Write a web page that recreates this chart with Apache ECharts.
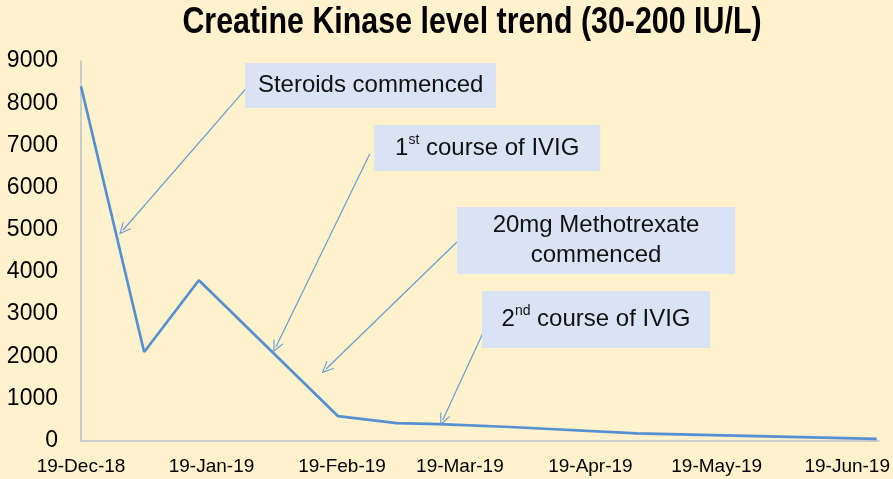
<!DOCTYPE html>
<html>
<head>
<meta charset="utf-8">
<script src="https://cdn.jsdelivr.net/npm/echarts@6/dist/echarts.min.js"></script>
<style>
html,body{margin:0;padding:0;background:#fff2cc;}
#chart{width:893px;height:479px;}
</style>
</head>
<body>
<div id="chart"></div>
<script>
// ---- data ----
var dates = ['2018-12-19','2019-01-03','2019-01-16','2019-02-18','2019-03-04','2019-03-14','2019-03-31','2019-04-30','2019-05-31','2019-06-26'];
var ckValues = [8400, 2100, 3800, 580, 410, 390, 320, 170, 100, 40];
var tickDates = ['2018-12-19','2019-01-19','2019-02-19','2019-03-19','2019-04-19','2019-05-19','2019-06-19'];
var tickLabels = ['19-Dec-18','19-Jan-19','19-Feb-19','19-Mar-19','19-Apr-19','19-May-19','19-Jun-19'];
var yTicks = [0, 9000, 1000];
var titleText = 'Creatine Kinase level trend (30-200 IU/L)';
// annotation boxes: text, centre [date, value]
var boxTexts = ['Steroids commenced', '{n|1}{sup|st}{n| course of IVIG}', '20mg Methotrexate\ncommenced', '{n|2}{sup|nd}{n| course of IVIG}'];
var boxCentres = [['2019-02-25 19:00', 8418], ['2019-03-25 12:00', 6936], ['2019-04-20 08:00', 4743], ['2019-04-20 08:00', 2869]];
// arrows: [from [date,value], to [date,value]]
var arrows = [
  [['2019-01-27 17:00', 8406], ['2018-12-29 00:00', 4992]],
  [['2019-02-25 14:00', 6794], ['2019-02-03 07:00', 2217]],
  [['2019-03-18 07:00', 4707], ['2019-02-15 05:00', 1696]],
  [['2019-03-25 17:00', 2817], ['2019-03-14 22:00', 486]]
];

function ts(s){ return new Date(s.length > 10 ? s.replace(' ', 'T') : s + 'T00:00:00').getTime(); }

var boxSizes = [[251,45],[226,46],[278,67],[228,57]];

var chart = echarts.init(document.getElementById('chart'));
var font = 'Liberation Sans, Arial, sans-serif';
var chevron = 'path://M5,0 L10,10 L8.9,10 L5,2.2 L1.1,10 L0,10 Z';
var tickTs = tickDates.map(ts);

chart.setOption({
  backgroundColor: '#fff2cc',
  animation: false,
  graphic: [{
    type: 'text',
    x: 472, y: 5,
    scaleX: 0.844,
    style: {
      text: titleText,
      font: 'bold 36px "Liberation Sans", Arial, sans-serif',
      fill: '#000',
      textAlign: 'center',
      textVerticalAlign: 'top'
    }
  }],
  grid: {left: 81, right: 13, top: 61, bottom: 38.5, containLabel: false},
  xAxis: {
    type: 'value',
    min: ts('2018-12-19'),
    max: ts('2019-06-26 12:00'),
    splitLine: {show: false},
    axisTick: {show: false},
    axisLine: {show: true, lineStyle: {color: '#bcc1cc', width: 1.5}},
    axisLabel: {
      show: true,
      customValues: tickTs,
      fontFamily: font, fontSize: 19, color: '#000', margin: 17,
      hideOverlap: false,
      showMinLabel: true, showMaxLabel: true,
      formatter: function(v){ var i = tickTs.indexOf(v); return i >= 0 ? tickLabels[i] : ''; }
    }
  },
  yAxis: {
    type: 'value',
    min: yTicks[0], max: yTicks[1], interval: yTicks[2],
    splitLine: {show: false},
    axisTick: {show: false},
    axisLine: {show: true, lineStyle: {color: '#bcc1cc', width: 1.5}},
    axisLabel: {fontFamily: font, fontSize: 23, color: '#000', margin: 23, formatter: function(v){ return String(v); }}
  },
  series: [{
    type: 'line',
    data: dates.map(function(d, i){ return [ts(d), ckValues[i]]; }),
    showSymbol: false,
    lineStyle: {color: '#5590d2', width: 2.7},
    z: 3,
    markLine: {
      silent: true,
      symbol: ['none', chevron],
      symbolSize: [11, 12],
      lineStyle: {color: '#6a9cd3', width: 1.2, type: 'solid'},
      label: {show: false},
      data: arrows.map(function(a){
        return [{coord: [ts(a[0][0]), a[0][1]]}, {coord: [ts(a[1][0]), a[1][1]]}];
      })
    },
    markPoint: {
      silent: true,
      data: boxTexts.map(function(t, i){
        return {
          coord: [ts(boxCentres[i][0]), boxCentres[i][1]],
          symbol: 'rect',
          symbolSize: boxSizes[i],
          itemStyle: {color: '#dae3f3'},
          label: {
            show: true, position: 'inside', formatter: t,
            fontFamily: font, fontSize: 24, color: '#111', lineHeight: 30, align: 'center',
            rich: {
              n: {fontFamily: font, fontSize: 24, color: '#111', lineHeight: 30},
              sup: {fontFamily: font, fontSize: 14, color: '#111', lineHeight: 30, verticalAlign: 'top', padding: [0,0,14,0]}
            }
          }
        };
      })
    }
  }]
});
</script>
</body>
</html>
